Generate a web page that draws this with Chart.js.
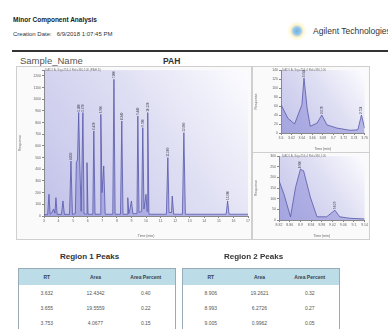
<!DOCTYPE html>
<html>
<head>
<meta charset="utf-8">
<script src="https://cdn.jsdelivr.net/npm/chart.js@4.4.0/dist/chart.umd.min.js"></script>
<style>
  body { margin: 0; width: 388px; height: 329px; background: #fff; position: relative; overflow: hidden; font-family: "Liberation Sans", Arial, sans-serif; color: #333; }
  .abs { position: absolute; white-space: nowrap; }
  .panel { position: absolute; border: 1px solid #cfcfcf; background: #fafafa; }
  .strip { position: absolute; font-size: 3px; color: #777; white-space: nowrap; }
  table { position: absolute; border-collapse: collapse; font-size: 5px; color: #555; border: 1px solid #9aabb8; table-layout: fixed; }
  th { background: #bcdce8; color: #345; font-weight: bold; height: 16px; padding: 0; font-size: 5px; }
  td { height: 15px; padding: 0; text-align: center; }
  .ttl { position: absolute; font-size: 8px; font-weight: bold; color: #333; white-space: nowrap; }
</style>
</head>
<body>
<div class="abs" style="left:13px;top:16px;font-size:6.5px;font-weight:bold;color:#222">Minor Component Analysis</div>
<div class="abs" style="left:13px;top:31px;font-size:6px;color:#333">Creation Date: &nbsp;&nbsp;6/9/2018 1:07:45 PM</div>
<div class="abs" style="left:287px;top:21px;width:20px;height:20px;border-radius:10px;background:radial-gradient(circle, #6fb0e2 0, #94c6ec 25%, rgba(255,238,170,0.6) 45%, rgba(255,255,255,0) 70%)"></div>
<div class="abs" style="left:313px;top:26px;font-size:8.5px;color:#333">Agilent Technologies</div>
<div class="abs" style="left:12px;top:50px;width:376px;height:1.5px;background:#333"></div>
<div class="abs" style="left:20px;top:55px;font-size:9.5px;color:#555">Sample_Name</div>
<div class="abs" style="left:163px;top:56px;font-size:8.5px;font-weight:bold;color:#333">PAH</div>

<div class="panel" style="left:16px;top:66px;width:234px;height:172px"><canvas id="main" width="234" height="172"></canvas></div>
<div class="strip" style="left:45px;top:68px">DAD1 A, Sig=254,4 Ref=360,100 (PAH.D)</div>
<div class="panel" style="left:252px;top:66px;width:116px;height:85px"><canvas id="r1" width="116" height="85"></canvas></div>
<div class="strip" style="left:282px;top:68px">DAD1 A, Sig=254,4 Ref=360,100</div>
<div class="panel" style="left:252px;top:152px;width:116px;height:86px"><canvas id="r2" width="116" height="86"></canvas></div>
<div class="strip" style="left:282px;top:154px">DAD1 A, Sig=254,4 Ref=360,100</div>

<div class="ttl" style="left:60px;top:252px">Region 1 Peaks</div>
<div class="ttl" style="left:224px;top:252px">Region 2 Peaks</div>
<table id="t1" style="left:18px;top:268px;width:157px"></table>
<table id="t2" style="left:182px;top:268px;width:157px"></table>

<script>
// main chromatogram (time in min, response in mAU)
const mainTime = [3.0, 3.25, 3.34, 3.42, 3.55, 3.65, 3.75, 3.82, 3.9, 4.2, 4.3, 4.4, 4.75, 4.85, 4.95, 5.15, 5.22, 5.3, 5.38, 5.45, 5.55, 5.67, 5.75, 5.9, 5.95, 6.02, 6.35, 6.42, 6.5, 6.85, 6.9, 6.98, 7.1, 7.2, 7.72, 7.8, 7.88, 8.25, 8.34, 8.42, 8.7, 8.75, 8.82, 8.9, 9.0, 9.1, 9.38, 9.44, 9.52, 9.7, 9.78, 9.86, 10.0, 10.07, 10.12, 10.2, 11.4, 11.5, 11.58, 11.75, 11.8, 11.9, 12.5, 12.6, 12.7, 15.5, 15.6, 15.7, 17.0];
const mainResp = [10, 12, 186, 15, 30, 60, 25, 157, 14, 14, 129, 14, 14, 471, 14, 20, 460, 480, 886, 470, 40, 886, 18, 16, 457, 15, 15, 729, 15, 15, 871, 200, 429, 15, 15, 1171, 15, 15, 814, 15, 15, 157, 20, 60, 129, 20, 20, 857, 30, 40, 757, 60, 186, 40, 886, 15, 15, 500, 30, 30, 171, 15, 15, 714, 15, 15, 129, 15, 15];
const mainPeaks = [4.85, 5.38, 5.67, 6.42, 6.9, 7.8, 8.34, 9.44, 9.78, 10.12, 11.5, 12.6, 15.6];

// region 1 zoom
const r1Time = [3.600, 3.613, 3.626, 3.640, 3.644, 3.650, 3.656, 3.669, 3.678, 3.688, 3.707, 3.732, 3.747, 3.754, 3.760];
const r1Resp = [63, 33, 20, 63, 122, 55, 15, 22, 40, 18, 11, 6, 7, 40, 11];
const r1Peaks = [3.644, 3.678, 3.754];

// region 2 zoom
const r2Time = [8.820, 8.838, 8.863, 8.882, 8.900, 8.912, 8.937, 8.962, 8.998, 9.029, 9.047, 9.085, 9.140];
const r2Resp = [185, 123, 15, 154, 238, 231, 108, 15, 15, 46, 15, 8, 5];
const r2Peaks = [8.900, 9.029];

// peak tables
const tableHead = ["RT", "Area", "Area Percent"];
const reg1RT = ["3.632", "3.655", "3.753"];
const reg1Area = ["12.4342", "19.5559", "4.0677"];
const reg1Pct = ["0.40", "0.22", "0.15"];
const reg2RT = ["8.906", "8.993", "9.005"];
const reg2Area = ["19.2621", "6.2726", "0.9962"];
const reg2Pct = ["0.32", "0.27", "0.05"];

const plotBg = {
    id: "plotBg",
    beforeDraw(chart) {
        const { ctx, chartArea: a } = chart;
        const g = ctx.createLinearGradient(a.left, a.bottom, a.right, a.top);
        g.addColorStop(0, "rgb(194,194,234)");
        g.addColorStop(0.55, "rgb(222,222,243)");
        g.addColorStop(1, "rgb(252,252,255)");
        ctx.save();
        ctx.fillStyle = g;
        ctx.fillRect(a.left, a.top, a.right - a.left, a.bottom - a.top);
        ctx.restore();
    }
};

// small rotated RT labels on top of peaks
const peakLabels = {
    id: "peakLabels",
    afterDatasetsDraw(chart, args, opts) {
        const { ctx, scales } = chart;
        const times = opts.times, resp = opts.resp;
        ctx.save();
        ctx.fillStyle = "#334";
        ctx.font = "3px Liberation Sans";
        opts.peaks.forEach(rt => {
            const i = times.indexOf(rt);
            const x = scales.x.getPixelForValue(rt);
            const y = scales.y.getPixelForValue(resp[i]);
            ctx.save();
            ctx.translate(x + 1, y - 1);
            ctx.rotate(-Math.PI / 2);
            ctx.fillText(rt.toFixed(3), 0, 0);
            ctx.restore();
        });
        ctx.restore();
    }
};

function makeChart(id, times, resp, peaks, xs, ys, pad) {
    const tickFont = { size: 3.5, family: "Liberation Sans" };
    return new Chart(document.getElementById(id), {
        type: "line",
        data: {
            datasets: [{
                data: times.map((t, i) => ({ x: t, y: resp[i] })),
                borderColor: "rgb(88,88,170)",
                backgroundColor: "rgba(128,128,212,0.45)",
                borderWidth: 0.8,
                fill: "origin",
                pointRadius: 0,
                tension: 0
            }]
        },
        options: {
            responsive: false,
            animation: false,
            devicePixelRatio: 1,
            layout: { padding: pad },
            plugins: {
                legend: { display: false },
                tooltip: { enabled: false },
                peakLabels: { times: times, resp: resp, peaks: peaks }
            },
            scales: {
                x: {
                    type: "linear", min: xs.min, max: xs.max,
                    ticks: { stepSize: xs.step, font: tickFont, color: "#666", maxRotation: 0, autoSkip: false, padding: 1,
                        callback: v => Number(v.toFixed(2)) },
                    grid: { drawOnChartArea: false, color: "#888", tickLength: 2 },
                    border: { color: "#888" },
                    title: { display: true, text: "Time (min)", font: tickFont, color: "#666", padding: 0 },
                    afterFit(s) { s.height = xs.h; }
                },
                y: {
                    min: 0, max: ys.max,
                    ticks: { stepSize: ys.step, font: tickFont, color: "#666", padding: 1,
                        callback: v => (v % ys.step === 0 ? v : "") },
                    grid: { drawOnChartArea: false, color: "#888", tickLength: 2 },
                    border: { color: "#888" },
                    title: { display: true, text: "Response", font: tickFont, color: "#666", padding: 0 },
                    afterFit(s) { s.width = ys.w; }
                }
            }
        },
        plugins: [plotBg, peakLabels]
    });
}

makeChart("main", mainTime, mainResp, mainPeaks,
    { min: 3, max: 17, step: 1, h: 22 }, { max: 1250, step: 100, w: 26 },
    { top: 2, right: 3, left: 1, bottom: 1 });
makeChart("r1", r1Time, r1Resp, r1Peaks,
    { min: 3.60, max: 3.76, step: 0.02, h: 18 }, { max: 140, step: 20, w: 27 },
    { top: 3, right: 3, left: 1, bottom: 1 });
makeChart("r2", r2Time, r2Resp, r2Peaks,
    { min: 8.82, max: 9.14, step: 0.04, h: 18 }, { max: 300, step: 50, w: 25 },
    { top: 3, right: 3, left: 1, bottom: 1 });

function fillTable(id, cols) {
    const t = document.getElementById(id);
    let html = "<colgroup><col style='width:56px'><col style='width:42px'><col style='width:59px'></colgroup>";
    html += "<tr>" + tableHead.map(h => "<th>" + h + "</th>").join("") + "</tr>";
    cols[0].forEach((_, i) => {
        html += "<tr>" + cols.map(c => "<td>" + c[i] + "</td>").join("") + "</tr>";
    });
    t.innerHTML = html;
}
fillTable("t1", [reg1RT, reg1Area, reg1Pct]);
fillTable("t2", [reg2RT, reg2Area, reg2Pct]);
</script>
</body>
</html>
